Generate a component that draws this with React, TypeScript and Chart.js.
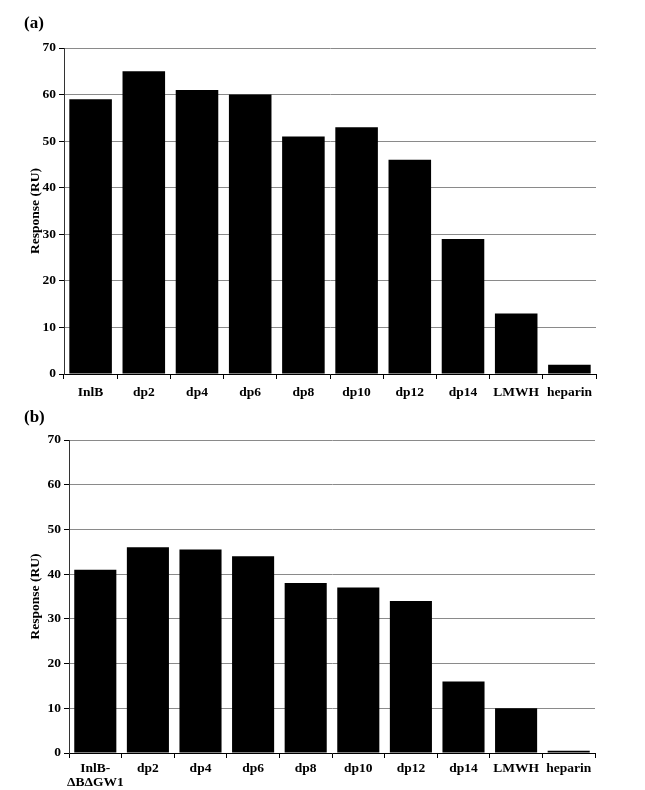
import React, { useEffect, useRef } from "react";
import { Chart, registerables } from "chart.js";

Chart.register(...registerables);

const categoriesA = ["InlB", "dp2", "dp4", "dp6", "dp8", "dp10", "dp12", "dp14", "LMWH", "heparin"];
const valuesA = [59, 65, 61, 60, 51, 53, 46, 29, 13, 2];
const categoriesB: (string | string[])[] = [["InlB-", "ΔBΔGW1"], "dp2", "dp4", "dp6", "dp8", "dp10", "dp12", "dp14", "LMWH", "heparin"];
const valuesB = [41, 46, 45.5, 44, 38, 37, 34, 16, 10, 0.5];
const yMin = 0;
const yMax = 70;
const yStep = 10;
const yTitle = "Response (RU)";

const FONT = "'Liberation Serif', 'Times New Roman', serif";

function makeConfig(labels: any[], data: number[], geom: { left: number; right: number; top: number; xh: number; xpad: number; canvasW: number }) {
  return {
    type: "bar" as const,
    data: {
      labels,
      datasets: [
        {
          data,
          backgroundColor: "#000",
          borderWidth: 0,
          barPercentage: 0.8,
          categoryPercentage: 1,
        },
      ],
    },
    options: {
      animation: false,
      responsive: false,
      maintainAspectRatio: false,
      layout: { padding: { top: geom.top, left: 0, right: geom.canvasW - geom.right, bottom: 0 } },
      plugins: { legend: { display: false }, tooltip: { enabled: false }, title: { display: false } },
      scales: {
        x: {
          grid: { display: true, drawOnChartArea: false, tickColor: "#000", tickLength: 5, offset: true },
          border: { display: true, color: "#000", width: 1 },
          ticks: { color: "#000", font: { family: FONT, size: 13.5, weight: "bold", lineHeight: 1.05 }, padding: geom.xpad, maxRotation: 0, autoSkip: false },
          afterFit: (s: any) => { s.height = geom.xh; },
        },
        y: {
          min: yMin,
          max: yMax,
          ticks: { stepSize: yStep, color: "#000", font: { family: FONT, size: 13.5, weight: "bold" }, padding: 3 },
          grid: { color: "#8a8a8a", lineWidth: 1, tickColor: "#000", tickLength: 5 },
          border: { display: true, color: "#333", width: 1 },
          title: { display: true, text: yTitle, color: "#000", font: { family: FONT, size: 13.5, weight: "bold" }, padding: { top: 27, bottom: 0 } },
          afterFit: (s: any) => { s.width = geom.left; },
        },
      },
    },
  };
}

function BarChart({ labels, data, geom, height, top }: any) {
  const ref = useRef<HTMLCanvasElement | null>(null);
  useEffect(() => {
    if (!ref.current) return;
    const chart = new Chart(ref.current, makeConfig(labels, data, geom) as any);
    return () => chart.destroy();
  }, []);
  return (
    <canvas
      ref={ref}
      width={645}
      height={height}
      style={{ position: "absolute", left: 0, top, width: 645, height }}
    />
  );
}

export default function App() {
  const labelStyle: React.CSSProperties = {
    position: "absolute",
    left: 24,
    fontFamily: FONT,
    fontWeight: "bold",
    fontSize: 17,
    lineHeight: "17px",
    color: "#000",
  };
  return (
    <div style={{ position: "fixed", left: 0, top: 0, width: 645, height: 790, background: "#fff" }}>
      <BarChart labels={categoriesA} data={valuesA} geom={{ left: 64, right: 596, top: 48, xh: 30, xpad: 6, canvasW: 645 }} height={404} top={0} />
      <BarChart labels={categoriesB} data={valuesB} geom={{ left: 69, right: 595, top: 40, xh: 37, xpad: 3, canvasW: 645 }} height={390} top={400} />
      <div style={{ ...labelStyle, top: 14 }}>(a)</div>
      <div style={{ ...labelStyle, top: 408 }}>(b)</div>
    </div>
  );
}
